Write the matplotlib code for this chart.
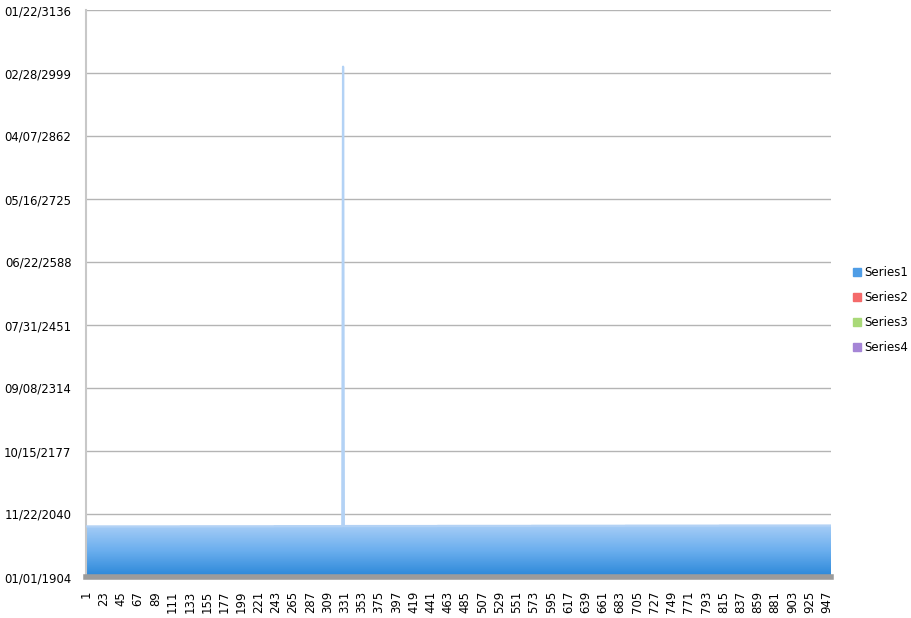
import numpy as np
import matplotlib
matplotlib.use("Agg")
import matplotlib.pyplot as plt
from matplotlib.colors import LinearSegmentedColormap, Normalize
from matplotlib.patches import Rectangle

# values are day numbers in the 1904 date system (day 0 = 01/01/1904)
# Series1 as runs: (number of categories, value)
series1_runs = [(120, 40150), (120, 40250), (88, 40350), (1, 405000),
                (120, 40450), (120, 40550), (120, 40650), (120, 40750),
                (143, 40850)]
series2 = []
series3 = []
series4 = []
series_names = ["Series1", "Series2", "Series3", "Series4"]
series_colors = ["#4f9de6", "#f46a6a", "#a9d978", "#a585d6"]

y_ticks = [0, 50000, 100000, 150000, 200000, 250000, 300000, 350000, 400000, 450000]
y_labels = ["01/01/1904", "11/22/2040", "10/15/2177", "09/08/2314", "07/31/2451",
            "06/22/2588", "05/16/2725", "04/07/2862", "02/28/2999", "01/22/3136"]


def expand(runs):
    vals = []
    for n, v in runs:
        vals = vals + [v] * n
    return np.array(vals, dtype=float)


s1 = expand(series1_runs)
n = len(s1)
cats = np.arange(1, n + 1)
if not series2:
    series2 = np.zeros(n)
    series3 = np.zeros(n)
    series4 = np.zeros(n)

fig = plt.figure(figsize=(9.11, 6.18), dpi=100)
ax = fig.add_axes([86 / 911, 1 - 577 / 618, 745 / 911, 567 / 618])

xlo, xhi = 0.5, n + 0.5
ax.set_xlim(xlo, xhi)
ax.set_ylim(0, 450000)

for y in y_ticks:
    ax.axhline(y, color="#b4b4b4", lw=1.0, zorder=1)

# area with vertical gradient
xs = np.concatenate([[xlo], cats, [xhi]])
ys = np.concatenate([[s1[0]], s1, [s1[-1]]])
poly = ax.fill_between(xs, 0, ys, facecolor="none", edgecolor="none", zorder=2)
cmap = LinearSegmentedColormap.from_list("g", ["#2a87d8", "#6aaeee", "#a6cdf6"])
grad = np.linspace(0, 450000, 900).reshape(-1, 1)
img = ax.imshow(grad, extent=[xlo, xhi, 0, 450000], origin="lower", aspect="auto",
                cmap=cmap, norm=Normalize(0, 41000), zorder=2, interpolation="bilinear")
img.set_clip_path(poly.get_paths()[0], transform=ax.transData)
ax.plot(xs, ys, color="#b3d2f5", lw=1.6, zorder=3)

# other series (flat at zero)
for vals, c in zip([series2, series3, series4], series_colors[1:]):
    ax.fill_between(cats, 0, vals, color=c, zorder=3)

ax.set_yticks(y_ticks)
ax.set_yticklabels(y_labels)
xt = cats[::22]
ax.set_xticks(xt)
ax.set_xticklabels([str(v) for v in xt], rotation=90)
ax.tick_params(axis="both", length=0, labelsize=8.4, colors="black")
ax.tick_params(axis="y", pad=10.5)
ax.tick_params(axis="x", pad=10)
ax.axhline(0, color="#9b9b9b", lw=4, zorder=4, clip_on=False)

for side in ["top", "right", "bottom"]:
    ax.spines[side].set_visible(False)
ax.spines["left"].set_color("#c8c8c8")
ax.spines["left"].set_linewidth(1.5)

handles = [Rectangle((0, 0), 1, 1, color=c) for c in series_colors]
leg = fig.legend(handles, series_names, loc="center left", bbox_to_anchor=(842 / 911, 1 - 310 / 618),
                 frameon=False, fontsize=8.5, handlelength=0.7, handleheight=0.7,
                 handletextpad=0.3, labelspacing=1.02)

fig.savefig("out.png", dpi=100)
